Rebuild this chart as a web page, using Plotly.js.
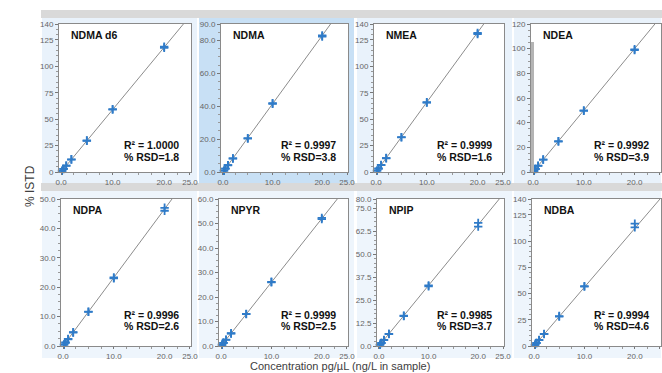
<!DOCTYPE html>
<html><head><meta charset="utf-8">
<script src="https://cdn.plot.ly/plotly-3.0.1.min.js"></script>
<style>html,body{margin:0;padding:0;background:#fff}#chart{width:662px;height:373px}</style>
</head><body><div id="chart"></div>
<script>
// ---- data ----
const compounds = ["NDMA d6","NDMA","NMEA","NDEA","NDPA","NPYR","NPIP","NDBA"];
const conc = [0.2, 0.5, 1, 2, 5, 10, 20];
const rep1_NDMAd6 = [1.2, 3.0, 5.9, 11.8, 29.5, 59.5, 118.5];
const rep2_NDMAd6 = [1.1, 2.9, 6.0, 12.0, 29.8, 59.0, 117.5];
const rep1_NDMA = [0.8, 2.1, 4.2, 8.3, 20.6, 41.5, 83.0];
const rep2_NDMA = [0.8, 2.0, 4.1, 8.2, 20.3, 41.8, 82.4];
const rep1_NMEA = [1.3, 3.3, 6.6, 13.2, 33.0, 66.0, 131.5];
const rep2_NMEA = [1.3, 3.2, 6.5, 13.0, 32.8, 65.6, 130.5];
const rep1_NDEA = [1.0, 2.5, 5.0, 10.0, 25.0, 50.0, 99.5];
const rep2_NDEA = [1.0, 2.4, 5.1, 10.1, 24.7, 49.6, 98.8];
const rep1_NDPA = [0.5, 1.2, 2.3, 4.6, 11.6, 23.3, 47.0];
const rep2_NDPA = [0.5, 1.1, 2.4, 4.7, 11.7, 23.0, 46.0];
const rep1_NPYR = [0.5, 1.3, 2.6, 5.2, 13.0, 26.2, 52.3];
const rep2_NPYR = [0.5, 1.3, 2.5, 5.1, 13.1, 26.0, 51.8];
const rep1_NPIP = [0.7, 1.6, 3.3, 6.6, 16.5, 33.0, 67.0];
const rep2_NPIP = [0.6, 1.7, 3.2, 6.5, 16.3, 32.5, 65.0];
const rep1_NDBA = [1.1, 2.8, 5.7, 11.5, 28.5, 57.0, 116.5];
const rep2_NDBA = [1.2, 2.9, 5.6, 11.3, 28.0, 56.5, 113.0];
const fitSlope = [5.9, 4.15, 6.6, 5.0, 2.33, 2.6, 3.3, 5.6];
const r2Text = ["1.0000","0.9997","0.9999","0.9992","0.9996","0.9999","0.9985","0.9994"];
const rsdText = ["1.8","3.8","1.6","3.9","2.6","2.5","3.7","4.6"];
const yMax = [140, 90, 140, 120, 50, 60, 80, 140];
const yTickVals = [
  [0,25,50,75,100,125,140],
  [0,20,40,60,80,90],
  [0,25,50,75,100,125,140],
  [0,20,40,60,80,100,120],
  [0,10,20,30,40,50],
  [0,10,20,30,40,50,60],
  [0,12.5,25,37.5,50,62.5,75,80],
  [0,25,50,75,100,125,140]
];
const yTickText = [
  ["0","25","50","75","100","125","140"],
  ["0.0","20.0","40.0","60.0","80.0","90.0"],
  ["0","25","50","75","100","125","140"],
  ["0","20","40","60","80","100","120"],
  ["0.0","10.0","20.0","30.0","40.0","50.0"],
  ["0.0","10.0","20.0","30.0","40.0","50.0","60.0"],
  ["0.0","12.5","25.0","37.5","50.0","62.5","75.0","80.0"],
  ["0","25","50","75","100","125","140"]
];
const yMinor = [5, 5, 5, 5, 2.5, 2.5, 2.5, 5];
const xTickVals = [0, 10, 20, 25];
const xTickText = ["0.0", "10.0", "20.0", "25.0"];
const rep1 = [rep1_NDMAd6, rep1_NDMA, rep1_NMEA, rep1_NDEA, rep1_NDPA, rep1_NPYR, rep1_NPIP, rep1_NDBA];
const rep2 = [rep2_NDMAd6, rep2_NDMA, rep2_NMEA, rep2_NDEA, rep2_NDPA, rep2_NPYR, rep2_NPIP, rep2_NDBA];

// ---- layout geometry (pixels) ----
const W = 662, H = 373;
const px = x => x / W, py = y => 1 - y / H;
const plotX = [[59,191],[221,348],[374,504],[531,661],[61,191],[219,348],[377,504],[532,661]];
const rowY = [[24,172],[199,346]];
const panelX = [[41,198],[198,355],[356,513],[513,662]];
const panelY = [[18,183],[191,358]];
const panelFill = ["#e9f2fb","#c8e0f5","#e9f2fb","#e9f2fb"];

const traces = [];
const layout = {
  width: W, height: H,
  margin: {l:0, r:0, t:0, b:0},
  paper_bgcolor: "#ffffff",
  plot_bgcolor: "#ffffff",
  showlegend: false,
  font: {family: "Liberation Sans, Arial, sans-serif", size: 8, color: "#606060"},
  shapes: [], annotations: []
};

// background bands and panels
layout.shapes.push({type:"rect", xref:"paper", yref:"paper", x0:px(41), x1:px(662), y0:py(18), y1:py(10), fillcolor:"#d9d9d9", line:{width:0}, layer:"below"});
layout.shapes.push({type:"rect", xref:"paper", yref:"paper", x0:px(41), x1:px(662), y0:py(191), y1:py(183), fillcolor:"#d9d9d9", line:{width:0}, layer:"below"});
for (let r = 0; r < 2; r++) {
  for (let c = 0; c < 4; c++) {
    const fill = r === 0 ? panelFill[c] : "#eef5fc";
    layout.shapes.push({type:"rect", xref:"paper", yref:"paper",
      x0:px(panelX[c][0]+1), x1:px(panelX[c][1]-1), y0:py(panelY[r][1]), y1:py(panelY[r][0]),
      fillcolor: fill, line:{width:0}, layer:"below"});
  }
}

for (let i = 0; i < 8; i++) {
  const r = i < 4 ? 0 : 1;
  const n = i === 0 ? "" : String(i + 1);
  const xa = "x" + n, ya = "y" + n;
  const [x0, x1] = plotX[i];
  const [y0, y1] = rowY[r];
  // white plot area
  layout.shapes.push({type:"rect", xref:"paper", yref:"paper", x0:px(x0), x1:px(x1), y0:py(y1), y1:py(y0), fillcolor:"#ffffff", line:{width:0}, layer:"below"});
  layout["xaxis" + n] = {
    domain: [px(x0), px(x1)], anchor: ya, range: [-0.4, 25.2],
    tickvals: xTickVals, ticktext: xTickText, ticks: "outside", ticklen: 2, tickcolor: "#777",
    minor: {dtick: 2.5, ticks: "outside", ticklen: 1.5, tickcolor: "#999"},
    showline: true, mirror: true, linecolor: "#8a8a8a", linewidth: 1,
    showgrid: false, zeroline: false, fixedrange: true,
    tickfont: {size: 8, color: "#666"}
  };
  layout["yaxis" + n] = {
    domain: [py(y1), py(y0)], anchor: xa, range: [0, yMax[i]],
    tickvals: yTickVals[i], ticktext: yTickText[i], ticks: "outside", ticklen: 3, tickcolor: "#777",
    minor: {dtick: yMinor[i], ticks: "outside", ticklen: 2, tickcolor: "#999"},
    showline: true, mirror: true, linecolor: "#8a8a8a", linewidth: 1,
    showgrid: false, zeroline: false, fixedrange: true,
    tickfont: {size: 8, color: "#666"}
  };
  // fit line
  traces.push({type:"scatter", mode:"lines", xaxis:xa, yaxis:ya,
    x:[0, 25], y:[0, fitSlope[i]*25], line:{color:"#8c8c8c", width:1}, hoverinfo:"skip"});
  // replicate points
  [rep1[i], rep2[i]].forEach(vals => {
    traces.push({type:"scatter", mode:"markers", xaxis:xa, yaxis:ya, x:conc, y:vals, cliponaxis:false,
      marker:{symbol:"cross-thin-open", size:6, color:"#2f7bc8", line:{color:"#2f7bc8", width:1.8}}});
  });
  // compound name
  layout.annotations.push({xref:"paper", yref:"paper", x:px(x0+10), y:py(y0+11), xanchor:"left", yanchor:"middle",
    text:"<b>" + compounds[i] + "</b>", showarrow:false, font:{size:10.5, color:"#111"}});
  // stats
  const sy = r === 0 ? [145, 157] : [315, 326];
  layout.annotations.push({xref:"paper", yref:"paper", x:px(x1-69), y:py(sy[0]), xanchor:"left", yanchor:"middle",
    text:"<b>R² = " + r2Text[i] + "</b>", showarrow:false, font:{size:10.5, color:"#111"}});
  layout.annotations.push({xref:"paper", yref:"paper", x:px(x1-69), y:py(sy[1]), xanchor:"left", yanchor:"middle",
    text:"<b>% RSD=" + rsdText[i] + "</b>", showarrow:false, font:{size:10.5, color:"#111"}});
}

// NDEA left-edge gray strip
layout.shapes.push({type:"rect", xref:"paper", yref:"paper", x0:px(531), x1:px(534), y0:py(172), y1:py(42), fillcolor:"#b4b4b4", line:{width:0}, layer:"above"});

// axis titles
layout.annotations.push({xref:"paper", yref:"paper", x:px(30), y:py(186), xanchor:"center", yanchor:"middle", textangle:-90,
  text:"% ISTD", showarrow:false, font:{size:12, color:"#404040"}});
layout.annotations.push({xref:"paper", yref:"paper", x:px(340), y:py(373), xanchor:"center", yanchor:"bottom",
  text:"Concentration pg/µL (ng/L in sample)", showarrow:false, font:{size:11, color:"#404040"}, borderpad:0});

Plotly.newPlot("chart", traces, layout, {displayModeBar:false, staticPlot:true});
</script>
</body></html>
